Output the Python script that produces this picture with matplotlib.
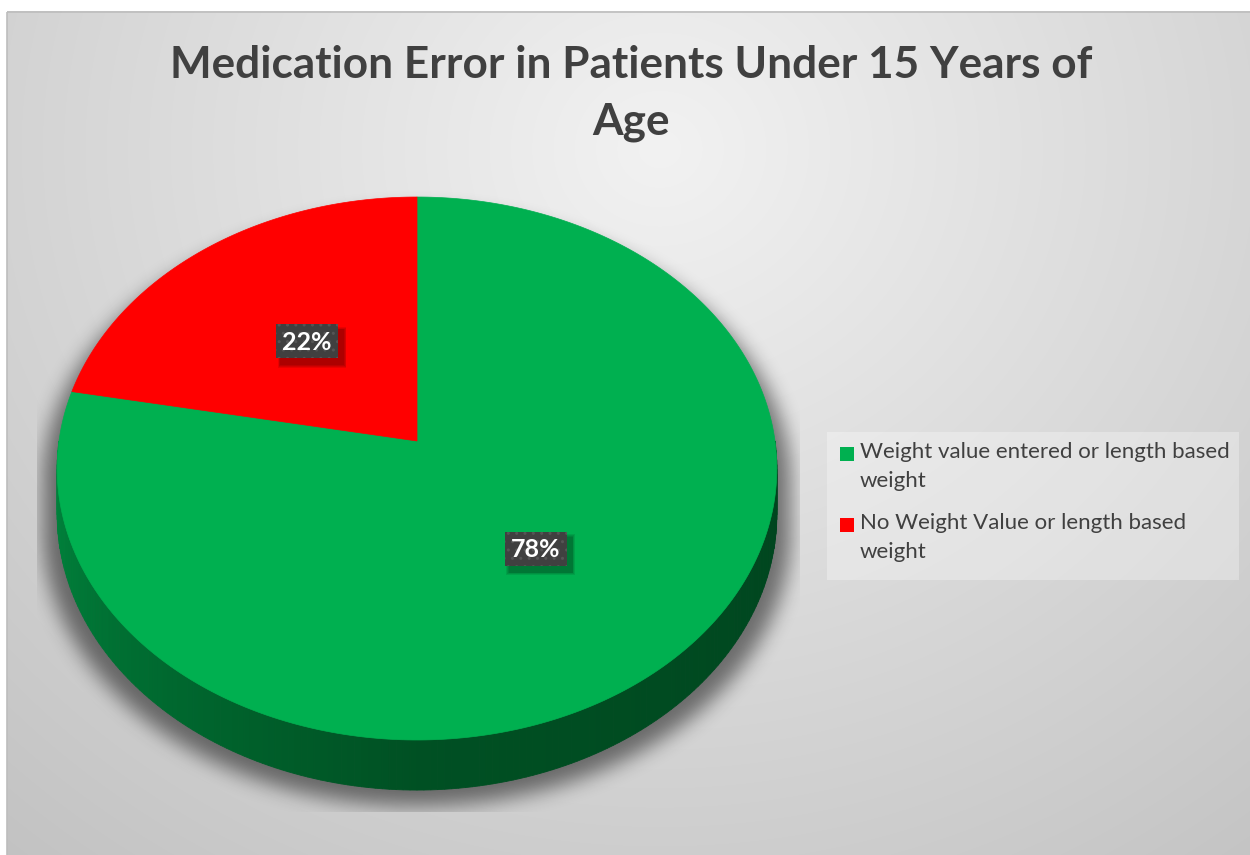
import textwrap
import numpy as np
import matplotlib.pyplot as plt
from matplotlib.patches import Polygon, Rectangle
from matplotlib.path import Path

# Données
categories = ["Weight value entered or length based weight",
              "No Weight Value or length based weight"]
values = [78, 22]
colors = ['#00B050', '#FF0000']
title = "Medication Error in Patients Under 15 Years of Age"

W, Hpx = 1250, 855
plt.rcParams['font.family'] = ['Lato', 'DejaVu Sans']

# géométrie du camembert 3D (pixels)
CX, CY = 417, 441
A, B, P = 358, 268.7, 0.1013
DEPTH = 45


def proj(t, r=1.0, z=0.0, a=A, cy=CY):
    x = r * np.cos(t)
    y = r * np.sin(t)
    f = 1.0 / (1.0 + P * y)
    return CX + a * x * f, cy - B * y * f + DEPTH * z * f


def box_blur(arr, r, axis):
    arr = np.moveaxis(arr, axis, 0)
    pad = [(r + 1, r)] + [(0, 0)] * (arr.ndim - 1)
    c = np.cumsum(np.pad(arr, pad), axis=0)
    out = (c[2 * r + 1:] - c[:-2 * r - 1]) / (2 * r + 1)
    return np.moveaxis(out, 0, axis)


fig = plt.figure(figsize=(W / 100, Hpx / 100), dpi=100)
fig.patch.set_facecolor('white')
ax = fig.add_axes([0, 0, 1, 1])
ax.set_xlim(0, W)
ax.set_ylim(Hpx, 0)
ax.axis('off')

# fond en dégradé radial
yy, xx = np.mgrid[0:Hpx, 0:W] + 0.5
d = np.hypot(xx - 660, (yy - 150) * 1.1)
bg = np.clip(242 - 0.047 * d, 190, 245) / 255.0
ax.imshow(np.dstack([bg, bg, bg])[12:, 7:], extent=[7, W, Hpx, 12], zorder=0)
ax.add_patch(Rectangle((7, 12), W, Hpx, fill=False, ec='#bdbdbd', lw=1.2, zorder=1))

# ombre portée
t_full = np.linspace(0, 2 * np.pi, 240)
pts = np.column_stack([xx.ravel(), yy.ravel()])
mask = np.zeros(xx.size, dtype=bool)
for z in np.linspace(0, 1, 8):
    sx, sy = proj(t_full, z=z, a=A * 1.04, cy=CY + 16)
    mask |= Path(np.column_stack([sx, sy])).contains_points(pts)
mask = mask.reshape(xx.shape).astype(float)
for _ in range(3):
    mask = box_blur(mask, 9, 0)
    mask = box_blur(mask, 9, 1)
clip = (xx >= 37) & (xx <= 800) & (yy <= 812)
shadow = np.zeros((Hpx, W, 4))
shadow[..., 3] = 0.5 * mask * clip
ax.imshow(shadow, extent=[0, W, Hpx, 0], zorder=2)

# côté (tranche) du camembert
left_c = np.array([0, 135, 62]) / 255
front_c = np.array([0, 80, 35]) / 255
right_c = np.array([0, 68, 30]) / 255
ts = np.linspace(np.pi, 2 * np.pi, 181)
for i in range(len(ts) - 1):
    s = (ts[i] - np.pi) / np.pi
    if s < 0.5:
        col = left_c + (front_c - left_c) * (s / 0.5)
    else:
        col = front_c + (right_c - front_c) * ((s - 0.5) / 0.5)
    seg = np.array([ts[i], ts[i + 1]])
    x0, y0 = proj(seg, z=0)
    x1, y1 = proj(seg[::-1], z=1)
    quad = np.column_stack([np.r_[x0, x1], np.r_[y0, y1]])
    ax.add_patch(Polygon(quad, closed=True, fc=col, ec=col, lw=0.6, zorder=3))

# face supérieure : parts dans le sens horaire depuis midi
fracs = np.array(values) / sum(values)
start = np.pi / 2
mids = []
for frac, col in zip(fracs, colors):
    end = start - frac * 2 * np.pi
    t = np.linspace(start, end, max(int(frac * 400), 20))
    x, y = proj(t)
    poly = np.column_stack([np.r_[CX, x], np.r_[CY, y]])
    ax.add_patch(Polygon(poly, closed=True, fc=col, ec=col, lw=0.5, zorder=4))
    mids.append((start + end) / 2)
    start = end

# étiquettes de données
for v, m in zip(values, mids):
    lx, ly = proj(m, r=0.5)
    bw, bh = 62, 34
    for k in range(4):
        g = 2 + k * 1.5
        ax.add_patch(Rectangle((lx - bw / 2 + 5 - g / 2, ly - bh / 2 + 6 - g / 2),
                               bw + g, bh + g, fc='black', alpha=0.09,
                               ec='none', zorder=5))
    ax.add_patch(Rectangle((lx - bw / 2, ly - bh / 2), bw, bh, fc='#404040',
                           ec='#555555', lw=0, hatch='..', zorder=6))
    ax.text(lx, ly + 1, f"{v}%", color='white', fontsize=18, fontweight='bold',
            ha='center', va='center', zorder=7)

# titre
ax.text(631, 45, textwrap.fill(title, 46), ha='center', va='top', fontsize=31.8,
        fontweight='bold', color='#404040', linespacing=1.5, zorder=7)

# légende
ax.add_patch(Rectangle((827, 432), 412, 148, fc='white', alpha=0.3, ec='none', zorder=5))
ly0 = 447
for cat, col in zip(categories, colors):
    ax.add_patch(Rectangle((840, ly0), 14, 14, fc=col, ec='none', zorder=6))
    ax.text(860, ly0 - 5, textwrap.fill(cat, 36), ha='left', va='top',
            fontsize=16, color='#404040', linespacing=1.58, zorder=7)
    ly0 += 71

fig.savefig('out.png', dpi=100)
